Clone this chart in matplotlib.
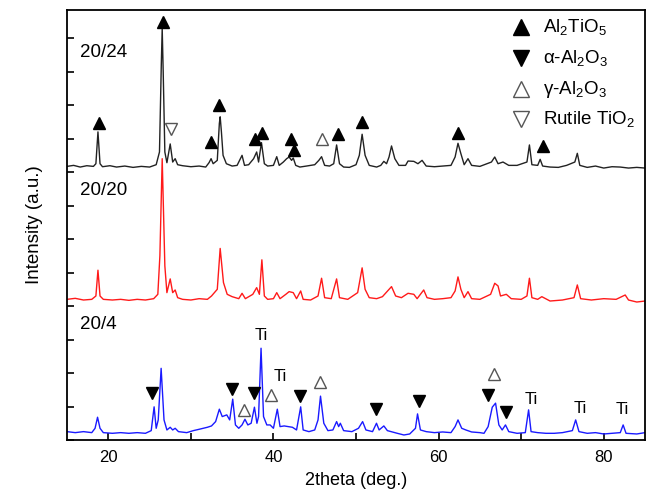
import matplotlib
matplotlib.use("Agg")
import matplotlib.pyplot as plt
from matplotlib.ticker import MultipleLocator, NullFormatter

plt.rcParams['font.family'] = ['Liberation Sans', 'DejaVu Sans']
plt.rcParams['mathtext.fontset'] = 'custom'
plt.rcParams['mathtext.rm'] = 'Liberation Sans'
plt.rcParams['mathtext.it'] = 'Liberation Sans:italic'

# ---- 20/24 trace (black) ----
x_2024 = [15.0, 15.8, 16.6, 17.4, 18.2, 18.5, 18.75, 19.0, 19.3, 20.2, 21.0, 22.0, 23.0, 24.0, 25.0,
          25.8, 26.2, 26.42, 26.53, 26.65, 26.85, 27.1, 27.5, 27.8, 28.1, 28.4, 29.0, 30.0, 31.0, 31.8, 32.2, 32.45,
          32.7, 33.2, 33.45, 33.55, 33.7, 33.9, 34.3, 35.0, 35.6, 36.0, 36.2, 36.5, 37.0, 37.6, 37.97, 38.2, 38.55,
          38.9, 39.3, 40.0, 40.4, 40.7, 41.2, 41.6, 41.9, 42.2, 42.4, 42.7, 43.2, 44.0, 45.0, 45.5,
          45.83, 46.2, 46.8, 47.3, 47.65, 48.0, 48.5, 49.2, 50.0, 50.4, 50.74, 51.1, 51.6, 52.5, 53.0,
          53.37, 53.7, 54.0, 54.3, 54.7, 55.2, 56.0, 56.3, 57.0, 57.5, 58.0, 58.5, 59.5, 60.5, 61.5,
          62.0, 62.35, 62.7, 63.1, 63.56, 64.0, 65.0, 66.4, 66.8, 67.2, 67.8, 68.5, 69.5, 70.7, 71.0,
          71.3, 72.0, 72.3, 72.6, 73.5, 74.5, 75.5, 76.5, 76.8, 77.1, 78.0, 79.0, 80.0, 81.0, 82.0,
          83.0, 84.0, 85.0]
y_2024 = [8.17, 8.20, 8.15, 8.19, 8.17, 8.25, 9.20, 8.25, 8.16, 8.19, 8.15, 8.18, 8.14, 8.17, 8.15,
          8.22, 8.60, 11.20, 12.29, 11.00, 8.60, 8.28, 8.84, 8.30, 8.40, 8.22, 8.19, 8.16, 8.18, 8.15, 8.28, 8.40,
          8.25, 8.35, 9.45, 9.65, 9.20, 8.50, 8.25, 8.18, 8.20, 8.40, 8.50, 8.20, 8.22, 8.40, 8.60, 8.30, 8.88,
          8.25, 8.18, 8.20, 8.46, 8.20, 8.30, 8.40, 8.45, 8.35, 8.42, 8.20, 8.15, 8.18, 8.22, 8.35,
          8.46, 8.20, 8.18, 8.25, 8.81, 8.25, 8.15, 8.14, 8.22, 8.50, 9.13, 8.50, 8.20, 8.15, 8.20,
          8.32, 8.25, 8.45, 8.78, 8.40, 8.20, 8.20, 8.33, 8.32, 8.25, 8.35, 8.18, 8.16, 8.18, 8.20,
          8.45, 8.86, 8.55, 8.22, 8.40, 8.20, 8.17, 8.30, 8.45, 8.25, 8.30, 8.20, 8.20, 8.30, 8.81,
          8.22, 8.20, 8.38, 8.18, 8.15, 8.14, 8.20, 8.30, 8.56, 8.20, 8.14, 8.18, 8.12, 8.16, 8.15,
          8.12, 8.14, 8.12]

# ---- 20/20 trace (red) ----
x_2020 = [15.0, 16.0, 17.0, 18.0, 18.5, 18.75, 19.0, 19.4, 20.5, 21.5, 22.5, 23.5, 24.5, 25.5, 26.0,
          26.25, 26.53, 26.85, 27.1, 27.5, 27.8, 28.1, 28.4, 29.0, 30.0, 31.0, 32.0, 32.5, 33.2, 33.55,
          33.95, 34.4, 35.0, 35.8, 36.2, 36.6, 37.5, 37.97, 38.3, 38.6, 38.9, 39.3, 40.0, 40.4, 40.8,
          41.5, 41.9, 42.4, 42.8, 43.3, 43.6, 44.5, 45.4, 45.83, 46.2, 47.0, 47.65, 48.0, 49.0, 50.2,
          50.74, 51.1, 51.6, 52.5, 53.2, 54.3, 54.8, 55.5, 56.3, 57.0, 57.4, 58.2, 58.6, 59.5, 60.5,
          61.5, 62.0, 62.35, 62.7, 63.1, 63.56, 64.0, 65.0, 66.3, 66.8, 67.2, 67.5, 68.2, 68.8, 70.0,
          70.7, 71.0, 71.3, 72.0, 72.5, 73.5, 75.0, 76.4, 76.8, 77.2, 78.5, 80.0, 81.5, 82.6, 83.0,
          84.0, 85.0]
y_2020 = [4.20, 4.23, 4.18, 4.20, 4.30, 5.07, 4.30, 4.20, 4.18, 4.20, 4.17, 4.20, 4.18, 4.22, 4.35,
          5.50, 8.40, 5.20, 4.40, 4.81, 4.40, 4.48, 4.25, 4.20, 4.18, 4.22, 4.20, 4.30, 4.50, 5.72,
          4.70, 4.35, 4.28, 4.22, 4.38, 4.22, 4.35, 4.55, 4.35, 5.38, 4.30, 4.20, 4.22, 4.40, 4.22,
          4.35, 4.43, 4.40, 4.22, 4.45, 4.20, 4.18, 4.30, 4.83, 4.25, 4.22, 4.81, 4.25, 4.20, 4.40,
          5.14, 4.50, 4.25, 4.22, 4.28, 4.58, 4.30, 4.25, 4.38, 4.35, 4.22, 4.48, 4.25, 4.20, 4.22,
          4.25, 4.45, 4.87, 4.50, 4.25, 4.43, 4.22, 4.20, 4.35, 4.68, 4.60, 4.30, 4.35, 4.22, 4.20,
          4.30, 4.83, 4.25, 4.20, 4.28, 4.15, 4.18, 4.25, 4.63, 4.22, 4.18, 4.22, 4.20, 4.33, 4.18,
          4.12, 4.15]

# ---- 20/4 trace (blue) ----
x_204 = [15.0, 16.0, 17.0, 18.0, 18.4, 18.7, 19.0, 19.4, 20.5, 21.5, 22.5, 23.5, 24.5, 25.2, 25.55,
         25.8, 26.05, 26.4, 26.75, 27.1, 27.5, 27.8, 28.1, 28.5, 29.5, 30.3, 31.0, 31.5, 32.0, 32.5,
         33.0, 33.45, 33.8, 34.35, 34.7, 35.07, 35.4, 35.8, 36.2, 36.55, 36.9, 37.3, 37.7, 38.0, 38.2,
         38.5, 38.8, 39.2, 39.6, 40.0, 40.47, 40.8, 41.3, 41.8, 42.3, 42.8, 43.3, 43.6, 44.3, 45.0,
         45.4, 45.7, 46.1, 46.6, 47.2, 47.65, 47.9, 48.1, 48.5, 49.5, 50.3, 50.8, 51.2, 52.0, 52.48,
         52.8, 53.37, 53.8, 55.0, 55.8, 56.5, 57.2, 57.45, 57.8, 58.5, 59.5, 60.5, 61.5, 62.0, 62.35,
         62.8, 63.3, 64.0, 65.0, 65.5, 66.0, 66.5, 66.9, 67.3, 67.7, 68.1, 68.5, 69.5, 70.5, 70.9,
         71.2, 72.0, 73.0, 74.0, 75.0, 76.2, 76.6, 77.0, 78.0, 79.0, 80.0, 81.0, 82.0, 82.35, 82.7,
         84.0, 85.0]
y_204 = [0.25, 0.22, 0.25, 0.22, 0.35, 0.68, 0.35, 0.22, 0.20, 0.22, 0.20, 0.22, 0.20, 0.28, 0.99,
         0.35, 0.60, 2.14, 0.60, 0.30, 0.38, 0.30, 0.35, 0.25, 0.22, 0.28, 0.32, 0.35, 0.38, 0.42,
         0.55, 0.92, 0.70, 0.75, 0.60, 1.22, 0.45, 0.35, 0.45, 0.62, 0.45, 0.50, 0.98, 0.50, 0.70,
         2.74, 0.70, 0.45, 0.45, 0.35, 0.92, 0.40, 0.42, 0.40, 0.38, 0.30, 0.99, 0.30, 0.25, 0.30,
         0.60, 1.31, 0.50, 0.28, 0.30, 0.55, 0.40, 0.50, 0.28, 0.25, 0.35, 0.55, 0.30, 0.25, 0.50,
         0.30, 0.42, 0.28, 0.20, 0.15, 0.18, 0.35, 0.78, 0.30, 0.25, 0.22, 0.24, 0.22, 0.40, 0.60,
         0.35, 0.30, 0.24, 0.22, 0.20, 0.40, 0.98, 1.10, 0.45, 0.30, 0.45, 0.25, 0.20, 0.22, 0.90,
         0.25, 0.22, 0.20, 0.20, 0.22, 0.28, 0.60, 0.25, 0.20, 0.22, 0.18, 0.20, 0.22, 0.45, 0.20,
         0.18, 0.22]

# ---- phase markers ----
al2tio5_x = [18.82, 26.68, 32.45, 33.45, 37.77, 38.58, 42.12, 42.52, 47.84, 50.74, 62.35, 72.7]
al2tio5_y = [9.48, 12.47, 8.90, 10.00, 9.00, 9.18, 8.99, 8.66, 9.13, 9.50, 9.18, 8.78]
alpha_x = [25.35, 35.02, 37.61, 43.21, 52.40, 57.64, 65.98, 68.20]
alpha_y = [1.41, 1.51, 1.41, 1.32, 0.92, 1.17, 1.34, 0.84]
gamma_x = [45.90, 36.47, 39.67, 45.63, 66.67]
gamma_y = [8.99, 0.90, 1.34, 1.74, 1.97]
rutile_x = [27.60]
rutile_y = [9.28]
ti_x = [38.53, 40.80, 71.20, 77.10, 82.30]
ti_y = [3.13, 1.89, 1.21, 0.95, 0.90]

sample_labels = ["20/24", "20/20", "20/4"]
sample_label_y = [11.56, 7.46, 3.46]

legend_labels = [r"Al$_2$TiO$_5$", r"α-Al$_2$O$_3$", r"γ-Al$_2$O$_3$", r"Rutile TiO$_2$"]
legend_y = [12.33, 11.40, 10.48, 9.58]

fig = plt.figure(figsize=(6.46, 4.94), dpi=100)
ax = fig.add_axes([0.1037, 0.1093, 0.8948, 0.8705])

ax.plot(x_2020, y_2020, color='#ff1a1a', lw=1.0)
ax.plot(x_2024, y_2024, color='#222222', lw=1.0)
ax.plot(x_204, y_204, color='#1a1aff', lw=1.0)

ms = 8.5
ax.plot(al2tio5_x, al2tio5_y, ls='none', marker='^', ms=ms, color='black')
ax.plot(alpha_x, alpha_y, ls='none', marker='v', ms=ms, color='black')
ax.plot(gamma_x, gamma_y, ls='none', marker='^', ms=ms, mfc='white', mec='#555555', mew=1.0)
ax.plot(rutile_x, rutile_y, ls='none', marker='v', ms=ms, mfc='white', mec='#555555', mew=1.0)

for tx, ty in zip(ti_x, ti_y):
    ax.text(tx, ty, "Ti", ha='center', va='center', fontsize=12)

for lab, ly in zip(sample_labels, sample_label_y):
    ax.text(16.6, ly, lab, ha='left', va='center', fontsize=13.5)

# legend (drawn manually)
leg_mx = 70.0
leg_tx = 72.7
leg_styles = [dict(marker='^', color='black'),
              dict(marker='v', color='black'),
              dict(marker='^', mfc='white', mec='#555555', mew=1.0),
              dict(marker='v', mfc='white', mec='#555555', mew=1.0)]
for lab, ly, st in zip(legend_labels, legend_y, leg_styles):
    ax.plot([leg_mx], [ly], ls='none', ms=11, **st)
    ax.text(leg_tx, ly, lab, ha='left', va='center', fontsize=13.5)

ax.set_xlim(15, 85)
ax.set_ylim(0, 12.84)
ax.xaxis.set_major_locator(MultipleLocator(20))
ax.xaxis.set_minor_locator(MultipleLocator(10))
ax.yaxis.set_major_locator(MultipleLocator(1))
ax.yaxis.set_major_formatter(NullFormatter())
ax.tick_params(axis='both', which='both', direction='in', width=1.2, length=5,
               top=False, right=False)
ax.tick_params(axis='x', labelsize=12, pad=7)
for s in ax.spines.values():
    s.set_linewidth(1.3)

ax.set_xlabel("2theta (deg.)", fontsize=13, labelpad=5)
ax.set_ylabel("Intensity (a.u.)", fontsize=13.5, labelpad=14)

fig.savefig("out.png", dpi=100)
